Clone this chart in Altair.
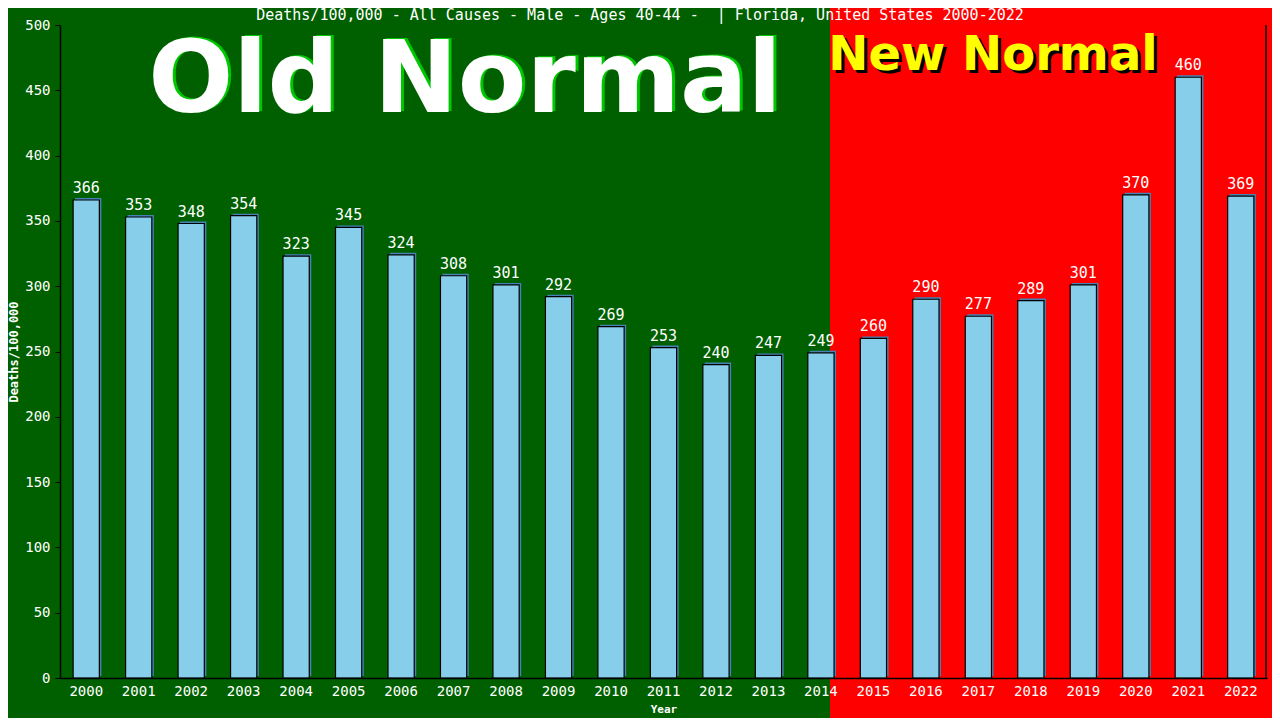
import altair as alt
import pandas as pd

years = [str(y) for y in range(2000, 2023)]
values = [366, 353, 348, 354, 323, 345, 324, 308, 301, 292, 269, 253, 240,
          247, 249, 260, 290, 277, 289, 301, 370, 460, 369]
title_text = "Deaths/100,000 - All Causes - Male - Ages 40-44 -\u00a0 | Florida, United States 2000-2022"
y_ticks = list(range(0, 501, 50))

df = pd.DataFrame({"Year": years, "Deaths": values})

W, H = 1207, 653
MONO = "DejaVu Sans Mono"
one = alt.Data(values=[{"k": 1}])

xenc = alt.X("Year:N", sort=years,
             scale=alt.Scale(paddingInner=0.5, paddingOuter=0.25),
             axis=alt.Axis(title="Year", labelAngle=0, ticks=False, labelPadding=6,
                           labelColor="white", labelFont=MONO, labelFontSize=14,
                           titleColor="white", titleFont=MONO, titleFontSize=11,
                           titleFontWeight="bold", titleY=31, titleBaseline="middle",
                           domainColor="black", domainWidth=1.5, zindex=1))
yenc = alt.Y("Deaths:Q", scale=alt.Scale(domain=[0, 500], nice=False),
             axis=alt.Axis(title="Deaths/100,000", values=y_ticks, grid=False,
                           tickSize=5, tickColor="black", labelPadding=5,
                           labelColor="white", labelFont=MONO, labelFontSize=14,
                           titleColor="white", titleFont=MONO, titleFontSize=12,
                           titleFontWeight="bold", titleX=-47, titleY=H / 2,
                           titleBaseline="middle", titleAngle=-90,
                           domainColor="black", domainWidth=1.5, zindex=1))

green = alt.Chart(one).mark_rect(color="#006000").encode(
    x=alt.value(-70), x2=alt.value(770), y=alt.value(-40), y2=alt.value(H + 60))

shadow = alt.Chart(df).mark_bar(color="#4682b4", xOffset=2, yOffset=-2).encode(
    x=xenc, y=yenc)
bars = alt.Chart(df).mark_bar(color="#87ceeb", stroke="black", strokeWidth=1.2).encode(
    x=xenc, y=yenc)
labels = alt.Chart(df).mark_text(color="white", font=MONO, fontSize=15,
                                 baseline="bottom", dy=-4).encode(
    x=alt.X("Year:N", sort=years), y="Deaths:Q", text="Deaths:Q")

right_line = alt.Chart(one).mark_rule(color="black", strokeWidth=1.5).encode(
    x=alt.value(W - 1), y=alt.value(0), y2=alt.value(H))

title = alt.Chart(one).mark_text(color="white", font=MONO, fontSize=15,
                                 baseline="middle", align="center").encode(
    x=alt.value(580), y=alt.value(-10), text=alt.value(title_text))

old_shadow = alt.Chart(one).mark_text(color="#00c800", font="DejaVu Sans", fontSize=100,
                                      fontWeight="bold", align="center",
                                      baseline="alphabetic").encode(
    x=alt.value(408), y=alt.value(86), text=alt.value("Old Normal"))
old_text = alt.Chart(one).mark_text(color="white", font="DejaVu Sans", fontSize=100,
                                    fontWeight="bold", align="center",
                                    baseline="alphabetic").encode(
    x=alt.value(405), y=alt.value(87), text=alt.value("Old Normal"))
new_shadow = alt.Chart(one).mark_text(color="black", font="DejaVu Sans", fontSize=48,
                                      fontWeight="bold", align="center",
                                      baseline="alphabetic").encode(
    x=alt.value(936), y=alt.value(48), text=alt.value("New Normal"))
new_text = alt.Chart(one).mark_text(color="yellow", font="DejaVu Sans", fontSize=48,
                                    fontWeight="bold", align="center",
                                    baseline="alphabetic").encode(
    x=alt.value(933), y=alt.value(45), text=alt.value("New Normal"))

chart = alt.layer(green, old_shadow, old_text, new_shadow, new_text, shadow, bars,
                  labels, right_line, title).properties(
    width=W, height=H, background="#ff0000",
    autosize=alt.AutoSizeParams(type="none"),
    padding={"left": 52, "top": 17, "right": 5, "bottom": 40},
).configure_view(stroke=None)

chart.save("out.html", embed_options={"renderer": "svg", "actions": False})
